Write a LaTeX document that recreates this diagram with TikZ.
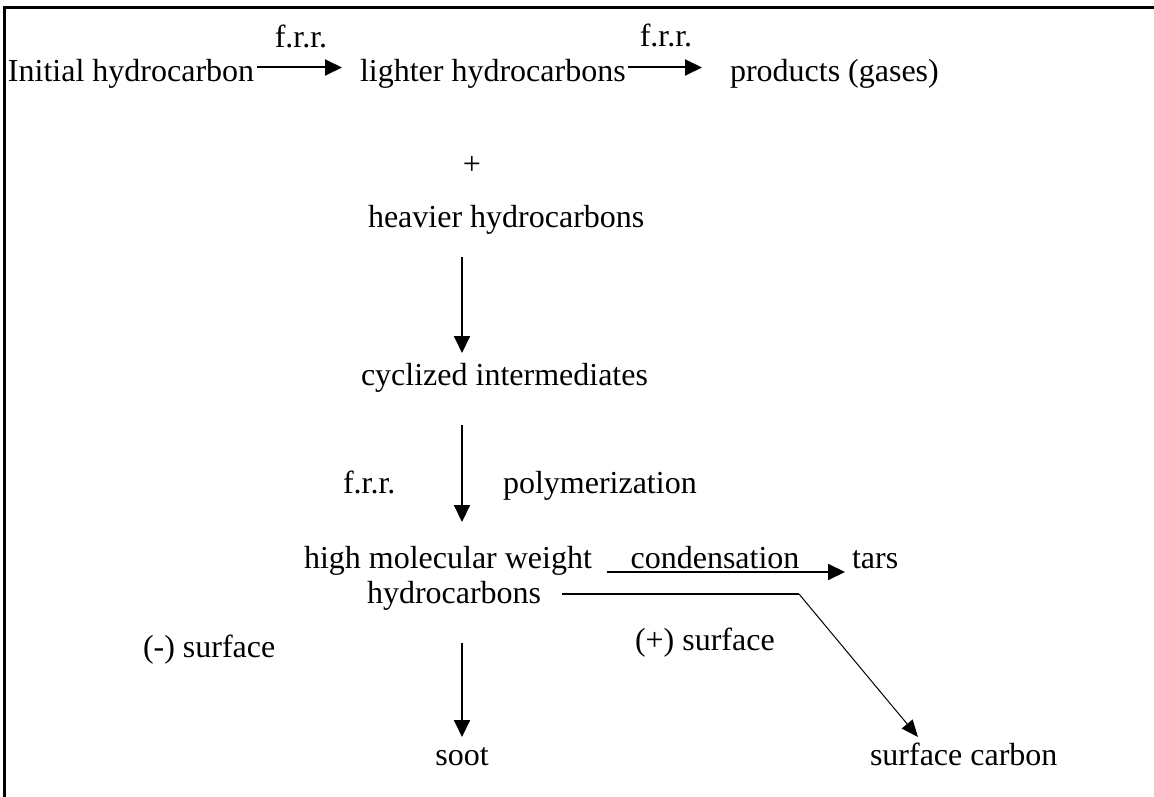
\documentclass[tikz,border=0pt]{standalone}
\usepackage{fontspec}
\setmainfont{Liberation Serif}
\usetikzlibrary{positioning}
\usetikzlibrary{arrows.meta}
\usetikzlibrary{calc}
\tikzset{%
	% Specifications for style of nodes:
	species/.style = {inner sep=0pt, outer sep=0pt,
		text height=22pt, text depth=7pt,
		font=\fontsize{32}{38}\selectfont},
	speciesW/.style = {species, anchor=base west},
	speciesC/.style = {species, anchor=base},
	% Specifications for style of arrows:
	reaction/.style = {line width=2pt, -{Triangle[length=17pt, width=16pt]}},
	thinReaction/.style = {line width=1pt, -{Triangle[length=17pt, width=14pt]}},
}
\begin{document}
\begin{tikzpicture}[x=1pt, y=-1pt]
\useasboundingbox (0,0) rectangle (1154,797);
\draw[line width=3pt] (4,797) -- (4,8) -- (1154,8);

\node (initial) [speciesW] at (8,82) {Initial hydrocarbon};
\node (lighter) [speciesW] at (360,82) {lighter hydrocarbons};
\node (products) [speciesW] at (730,82) {products (gases)};
\node (frrA) [speciesC] at (301,48) {f.r.r.};
\node (frrB) [speciesC] at (666,47) {f.r.r.};
\draw[reaction] ([xshift=3pt, yshift=7pt]initial.east) -- ([xshift=-18pt, yshift=7pt]lighter.west);
\draw[reaction] ([xshift=2pt, yshift=7pt]lighter.east) -- ([xshift=-28pt, yshift=7pt]products.west);

\node (plus) [speciesC] at (472,175) {+};
\node (heavier) [speciesW] at (368,227) {heavier hydrocarbons};
\node (cyclized) [speciesW] at (361,385) {cyclized intermediates};
\node (frrC) [speciesW] at (343,493) {f.r.r.};
\node (polym) [speciesW] at (503,493) {polymerization};
\node (hmw) [speciesW] at (304,568) {high molecular weight};
\node (hmwB) [speciesW] at (367,603) {hydrocarbons};
\node (soot) [speciesC] at (462,765) {soot};
\draw[reaction] ([yshift=-23pt]heavier.south -| soot.north) -- ([yshift=10pt]cyclized.north -| soot.north);
\draw[reaction] ([yshift=-33pt]cyclized.south -| soot.north) -- ([yshift=24pt]hmw.north -| soot.north);
\draw[reaction] ([yshift=-33pt]hmwB.south -| soot.north) -- ([yshift=6pt]soot.north);

\node (cond) [speciesC] at (715,568) {condensation};
\node (tars) [speciesW] at (852,568) {tars};
\draw[reaction] ([xshift=15pt, yshift=-4pt]hmw.base east) -- ([xshift=-7pt, yshift=-4pt]tars.base west);

\node (negSurf) [speciesW] at (143,657) {(-) surface};
\node (posSurf) [speciesW] at (635,650) {(+) surface};
\node (surfC) [speciesW] at (870,765) {surface carbon};
\coordinate (bend) at (799,594);
\draw[line width=2pt] ([xshift=21pt, yshift=9pt]hmwB.base east) -- (bend);
\draw[thinReaction] (bend) -- ([xshift=48pt, yshift=6pt]surfC.north west);
\end{tikzpicture}
\end{document}
